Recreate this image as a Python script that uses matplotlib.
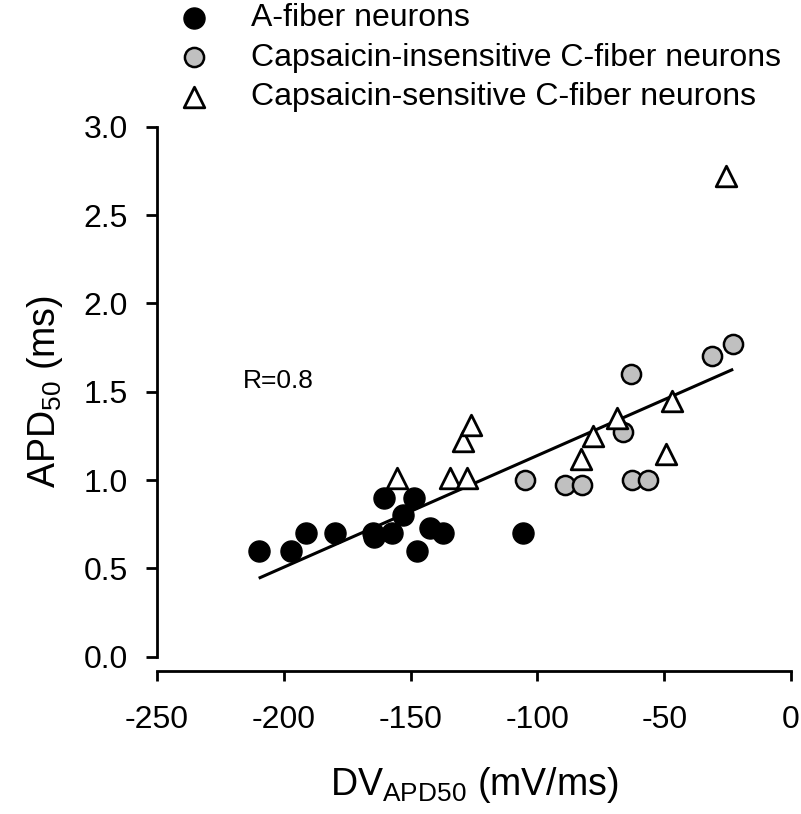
import matplotlib
matplotlib.use('Agg')
import matplotlib.pyplot as plt

plt.rcParams['font.family'] = ['Liberation Sans', 'DejaVu Sans']
plt.rcParams['mathtext.fontset'] = 'custom'
plt.rcParams['mathtext.rm'] = 'Liberation Sans'
plt.rcParams['mathtext.it'] = 'Liberation Sans:italic'

# A-fiber neurons
a_x = [-209.6, -197.2, -191.3, -179.9, -165.0, -164.3, -160.3, -157.4, -152.8,
       -148.6, -147.3, -142.4, -137.1, -105.8]
a_y = [0.60, 0.60, 0.70, 0.70, 0.70, 0.68, 0.90, 0.70, 0.80,
       0.90, 0.60, 0.73, 0.70, 0.70]
# Capsaicin-insensitive C-fiber neurons
ci_x = [-105.0, -89.3, -82.3, -66.3, -63.1, -62.7, -56.2, -31.3, -22.8]
ci_y = [1.00, 0.97, 0.97, 1.27, 1.60, 1.00, 1.00, 1.70, 1.77]
# Capsaicin-sensitive C-fiber neurons
cs_x = [-155.4, -134.5, -129.3, -127.6, -126.3, -82.7, -77.9, -68.8, -49.3, -47.0, -25.8]
cs_y = [1.01, 1.01, 1.22, 1.01, 1.31, 1.12, 1.25, 1.35, 1.15, 1.45, 2.72]
# regression line end points
fit_x = [-209.9, -22.8]
fit_y = [0.444, 1.627]

labels = ['A-fiber neurons', 'Capsaicin-insensitive C-fiber neurons',
          'Capsaicin-sensitive C-fiber neurons']
x_ticks = [-250, -200, -150, -100, -50, 0]
y_ticks = [0.0, 0.5, 1.0, 1.5, 2.0, 2.5, 3.0]

W, H = 801, 814
fig = plt.figure(figsize=(W / 100, H / 100), dpi=100)
left, right, top, bottom = 157, 791, 126.7, 656.7
ax = fig.add_axes([left / W, (H - bottom) / H, (right - left) / W, (bottom - top) / H])

ax.plot(fit_x, fit_y, color='black', lw=2.2, zorder=2, solid_capstyle='butt')
h1 = ax.scatter(a_x, a_y, s=230, c='black', edgecolors='black', linewidths=1.0,
                zorder=3, clip_on=False, label=labels[0])
h2 = ax.scatter(ci_x, ci_y, s=190, c='#c0c0c0', edgecolors='black', linewidths=1.8,
                zorder=3, clip_on=False, label=labels[1])
h3 = ax.scatter(cs_x, cs_y, s=220, marker='^', c='white', edgecolors='black',
                linewidths=2.0, zorder=4, clip_on=False, label=labels[2])

ax.set_xlim(-250, 0)
ax.set_ylim(0, 3)
ax.set_xticks(x_ticks)
ax.set_xticklabels([str(v) for v in x_ticks])
ax.set_yticks(y_ticks)
ax.set_yticklabels([f'{v:.1f}' for v in y_ticks])

for s in ['top', 'right']:
    ax.spines[s].set_visible(False)
ax.spines['left'].set_linewidth(2)
ax.spines['bottom'].set_linewidth(2)
ax.spines['bottom'].set_position(('outward', 10))
ax.tick_params(axis='x', direction='out', length=7.5, width=2, labelsize=23, pad=17)
ax.tick_params(axis='y', direction='out', length=8, width=2, labelsize=23, pad=13)

ax.set_xlabel(r'DV$_{\mathrm{APD50}}$ (mV/ms)', fontsize=27, labelpad=22)
ax.set_ylabel(r'APD$_{\mathrm{50}}$ (ms)', fontsize=27, labelpad=13)

ax.text(-216, 1.56, 'R=0.8', fontsize=19, va='center', ha='left')

fig.legend(handles=[h1, h2, h3], labels=labels, loc='upper left',
           bbox_to_anchor=(178 / W, 1 - 3 / H), frameon=False, fontsize=23,
           handlelength=1.0, handletextpad=1.3, labelspacing=0.3,
           borderpad=0, borderaxespad=0, scatterpoints=1)

fig.savefig('out.png', dpi=100)
